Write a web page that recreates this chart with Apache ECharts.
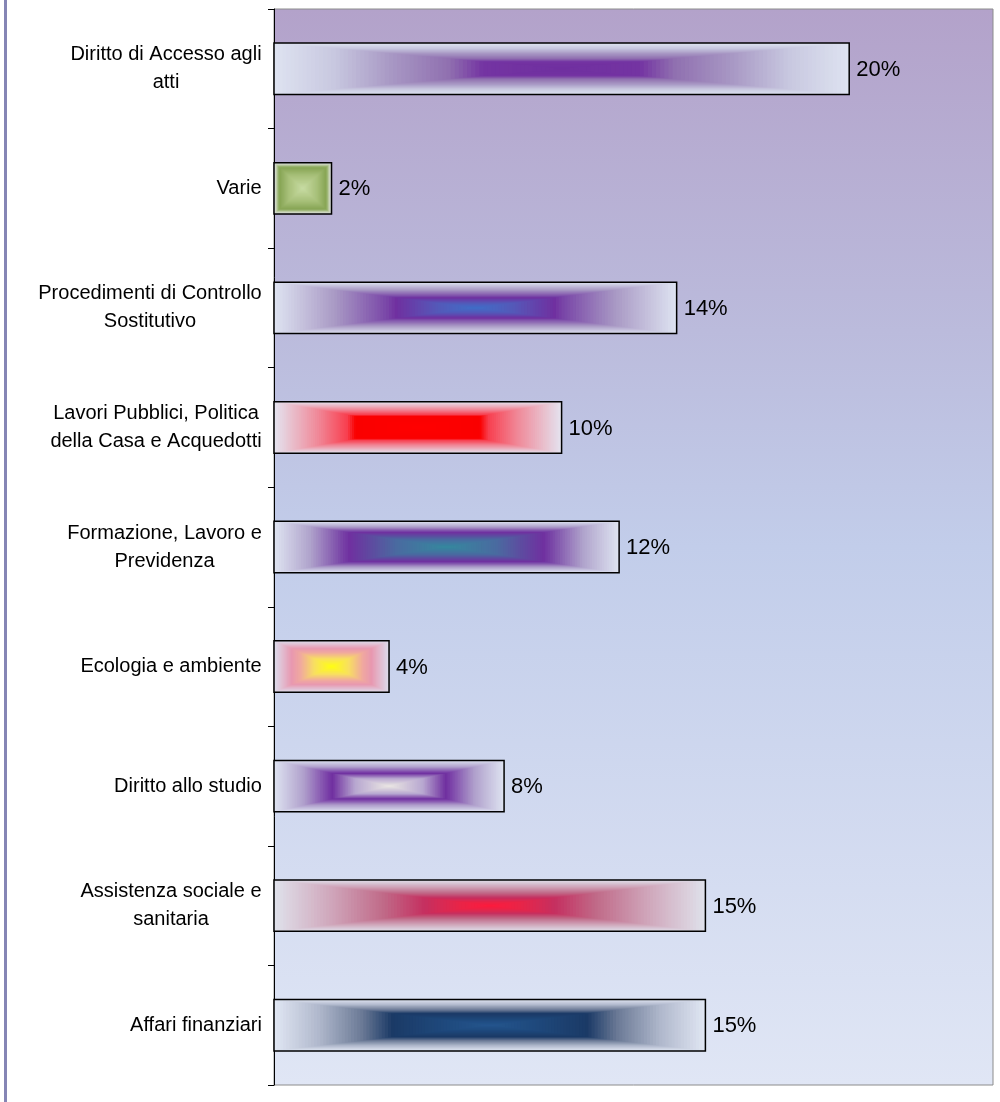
<!DOCTYPE html>
<html>
<head>
<meta charset="utf-8">
<script src="https://cdn.jsdelivr.net/npm/echarts@6/dist/echarts.min.js"></script>
<style>
  html, body { margin: 0; padding: 0; background: #fff; }
  #chart { width: 1000px; height: 1102px; }
</style>
</head>
<body>
<div id="chart"></div>
<script>
// categories listed bottom -> top (ECharts category y axis starts at bottom)
const categories = [
  'Affari finanziari',
  'Assistenza sociale e\nsanitaria',
  'Diritto allo studio',
  'Ecologia e ambiente',
  'Formazione, Lavoro e\nPrevidenza',
  'Lavori Pubblici, Politica\ndella Casa e Acquedotti',
  'Procedimenti di Controllo\nSostitutivo',
  'Varie',
  'Diritto di Accesso agli\natti'
];
const percentages = [15, 15, 8, 4, 12, 10, 14, 2, 20];

// rectangular "from center" fills: t = 0 center, t = 1 bar edge
const fills = [
  [[0, '#25568e'], [0.2, '#1f4a7e'], [0.46, '#1b3a66'], [0.6, '#6b7a96'], [0.8, '#b0b8cc'], [1, '#dfe5f2']],
  [[0, '#ff1a3c'], [0.15, '#e82448'], [0.31, '#c53060'], [0.5, '#c06a88'], [0.75, '#d0a8bc'], [1, '#dfe0ea']],
  [[0, '#ece8e4'], [0.3, '#b8a8d0'], [0.5, '#7030a0'], [0.54, '#7a40a8'], [0.75, '#b0a0cc'], [1, '#dde2f0']],
  [[0, '#ffff10'], [0.3, '#f8e060'], [0.55, '#f0a8a0'], [0.7, '#e898b0'], [1, '#dcdcec']],
  [[0, '#358a9e'], [0.3, '#4a6aa0'], [0.57, '#7030a0'], [0.62, '#7a48a8'], [0.8, '#b0a4cc'], [1, '#dde2f0']],
  [[0, '#ff0000'], [0.44, '#fa0000'], [0.5, '#f84050'], [0.7, '#f08898'], [1, '#e4e2ee']],
  [[0, '#3f6fc8'], [0.2, '#5558b8'], [0.4, '#7030a0'], [0.45, '#7a48a8'], [0.7, '#a898c4'], [1, '#dde2f0']],
  [[0, '#c8dca4'], [0.5, '#a8c07a'], [0.8, '#88a656'], [0.86, '#9ab470'], [0.92, '#c4d0b0'], [1, '#dfe3e8']],
  [[0, '#7030a0'], [0.28, '#7434a2'], [0.4, '#9070b0'], [0.6, '#a898c4'], [0.8, '#c8c8e0'], [1, '#dde2f0']]
];

function hexRgb(h) {
  return [parseInt(h.slice(1, 3), 16), parseInt(h.slice(3, 5), 16), parseInt(h.slice(5, 7), 16)];
}
function colorAt(stops, t) {
  for (let k = 1; k < stops.length; k++) {
    if (t <= stops[k][0]) {
      const a = stops[k - 1], b = stops[k];
      const f = (t - a[0]) / (b[0] - a[0] || 1);
      const ca = hexRgb(a[1]), cb = hexRgb(b[1]);
      const c = ca.map((v, j) => Math.round(v + (cb[j] - v) * f));
      return 'rgb(' + c.join(',') + ')';
    }
  }
  return stops[stops.length - 1][1];
}

// measure label lines so each block is right aligned but its lines centered
const FONT_FAMILY = '"Liberation Sans", Arial, sans-serif';
const LABEL_FONT = '20px ' + FONT_FAMILY;
const measureCtx = document.createElement('canvas').getContext('2d');
measureCtx.font = LABEL_FONT;
const rich = {};
categories.forEach((c, i) => {
  const w = Math.max(...c.split('\n').map(l => measureCtx.measureText(l).width));
  rich['l' + i] = { width: Math.ceil(w), align: 'center', fontSize: 20, lineHeight: 28, color: '#000',
    fontFamily: FONT_FAMILY };
});

const chart = echarts.init(document.getElementById('chart'));

chart.setOption({
  animation: false,
  graphic: [{
    type: 'rect', left: 4, top: 0,
    shape: { width: 3, height: 1102 },
    style: { fill: '#8585b5' }
  }],
  grid: {
    left: 274, top: 9, right: 7, bottom: 17,
    show: true,
    borderColor: '#8c8c8c',
    borderWidth: 1,
    backgroundColor: new echarts.graphic.LinearGradient(0, 0, 0, 1, [
      { offset: 0, color: '#b3a2ca' },
      { offset: 0.3, color: '#bbbbdc' },
      { offset: 0.5, color: '#c2cdea' },
      { offset: 1, color: '#e0e6f5' }
    ])
  },
  xAxis: {
    type: 'value', min: 0, max: 25,
    show: false
  },
  yAxis: {
    type: 'category',
    data: categories,
    axisLine: { lineStyle: { color: '#000', width: 1 } },
    axisTick: { show: true, length: 6, lineStyle: { color: '#000' } },
    axisLabel: {
      margin: 12,
      align: 'right',
      formatter: (v, i) => v.split('\n').map(l => '{l' + i + '|' + l + '}').join('\n'),
      rich: rich
    },
    splitLine: { show: false }
  },
  series: [{
    type: 'custom',
    data: percentages.map((v, i) => [v, i]),
    encode: { x: 0, y: 1 },
    renderItem(params, api) {
      const i = params.dataIndex;
      const v = api.value(0);
      const start = api.coord([0, api.value(1)]);
      const end = api.coord([v, api.value(1)]);
      const h = api.size([0, 1])[1] * 0.43;
      const x0 = start[0], w = end[0] - start[0], cy = start[1];
      const children = [];
      const N = 70;
      for (let k = 0; k < N; k++) {
        const t = 1 - k / N;
        children.push({
          type: 'rect',
          shape: { x: x0 + w * (1 - t) / 2, y: cy - h * t / 2, width: w * t, height: h * t },
          style: { fill: colorAt(fills[i], t) }
        });
      }
      children.push({
        type: 'rect',
        shape: { x: x0, y: cy - h / 2, width: w, height: h },
        style: { fill: 'none', stroke: '#000', lineWidth: 1.5 }
      });
      children.push({
        type: 'text',
        x: end[0] + 7, y: cy + 1,
        style: {
          text: v + '%', fill: '#000', font: '22px ' + FONT_FAMILY,
          textAlign: 'left', textVerticalAlign: 'middle'
        }
      });
      return { type: 'group', children: children };
    }
  }]
});

window.addEventListener('resize', () => chart.resize());
</script>
</body>
</html>
